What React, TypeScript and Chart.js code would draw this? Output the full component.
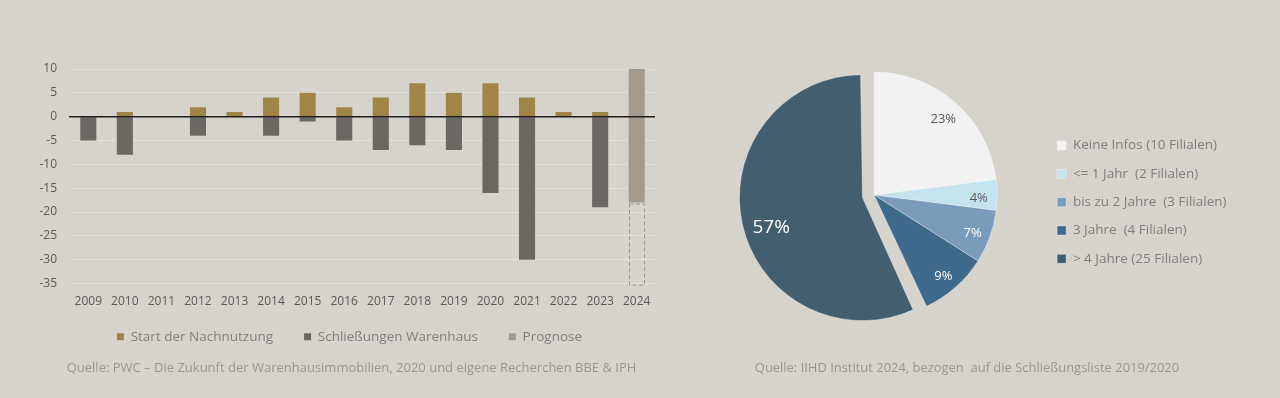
import React, { useEffect, useRef } from "react";
import { Chart, registerables } from "chart.js";

Chart.register(...registerables);

// ---------- Data ----------
const years = ["2009", "2010", "2011", "2012", "2013", "2014", "2015", "2016", "2017", "2018", "2019", "2020", "2021", "2022", "2023", "2024"];
const startNachnutzung = [0, 1, 0, 2, 1, 4, 5, 2, 4, 7, 5, 7, 4, 1, 1, null];
const schliessungen = [-5, -8, 0, -4, 0, -4, -1, -5, -7, -6, -7, -16, -30, 0, -19, null];
const prognose = [null, null, null, null, null, null, null, null, null, null, null, null, null, null, null, [-18, 10]];
const prognoseOffen = [null, null, null, null, null, null, null, null, null, null, null, null, null, null, null, [-35, -18]];
const yMin = -35;
const yMax = 10;
const yStep = 5;

const pieLabels = ["Keine Infos (10 Filialen)", "<= 1 Jahr  (2 Filialen)", "bis zu 2 Jahre  (3 Filialen)", "3 Jahre  (4 Filialen)", "> 4 Jahre (25 Filialen)"];
const pieValues = [23, 4, 7, 9, 57];
const pieValueLabels = ["23%", "4%", "7%", "9%", "57%"];

const sourceLeft = "Quelle: PWC \u2013 Die Zukunft der Warenhausimmobilien, 2020 und eigene Recherchen BBE & IPH";
const sourceRight = "Quelle: IIHD Institut 2024, bezogen  auf die Schlie\u00dfungsliste 2019/2020";

// ---------- Styles ----------
const BG = "#d6d3cc";
const FONT = "'Open Sans', sans-serif";
const GOLD = "#a08546";
const DARK = "#6b6863";
const PROG = "#a39a8f";
const GRID = "#e3e1dc";
const pieColors = ["#f2f2f2", "#c5e3ee", "#7b9bbd", "#3e6a8d", "#435f6f"];
const pieLabelColors = ["#595959", "#595959", "#ffffff", "#ffffff", "#ffffff"];
const PIE_RADIUS = 123;
const PIE_EXPLODE = 12;

Chart.defaults.font.family = FONT;

const zeroLinePlugin = {
  id: "zeroLine",
  afterDatasetsDraw(chart: any) {
    const y = chart.scales.y.getPixelForValue(0);
    const { left, right } = chart.chartArea;
    const ctx = chart.ctx;
    ctx.save();
    ctx.strokeStyle = "#1e1e1e";
    ctx.lineWidth = 1.5;
    ctx.beginPath();
    ctx.moveTo(left - 1, y);
    ctx.lineTo(right, y);
    ctx.stroke();
    ctx.restore();
  },
};

const dashedBoxPlugin = {
  id: "dashedBox",
  afterDatasetsDraw(chart: any) {
    const meta = chart.getDatasetMeta(3);
    const ctx = chart.ctx;
    ctx.save();
    ctx.strokeStyle = "#9a968f";
    ctx.lineWidth = 1;
    ctx.setLineDash([4, 2.5]);
    meta.data.forEach((el: any, i: number) => {
      if (prognoseOffen[i] == null) return;
      const { x, y, base, width } = el.getProps(["x", "y", "base", "width"], true);
      const top = Math.min(y, base);
      const bottom = Math.max(y, base);
      ctx.strokeRect(Math.round(x - width / 2) + 0.5, top + 1.5, Math.round(width) - 1, bottom - top);
    });
    ctx.restore();
  },
};

// Chart.js enlarges exploded slices wider than 180deg by their offset; keep them at the common radius.
const keepExplodedRadiusPlugin = {
  id: "keepExplodedRadius",
  afterDatasetUpdate(chart: any, args: any) {
    const meta = chart.getDatasetMeta(args.index);
    meta.data.forEach((arc: any) => {
      const off = (arc.options?.offset || 0) / 4;
      const circ = arc.circumference || 0;
      const fix = 1 - Math.sin(Math.min(Math.PI, circ));
      arc.outerRadius = arc.outerRadius - off * fix;
    });
  },
};

const pieLabelPlugin = {
  id: "pieLabels",
  afterDatasetsDraw(chart: any) {
    const meta = chart.getDatasetMeta(0);
    const ctx = chart.ctx;
    ctx.save();
    ctx.textAlign = "center";
    ctx.textBaseline = "middle";
    meta.data.forEach((arc: any, i: number) => {
      const { x, y, startAngle, endAngle } = arc.getProps(["x", "y", "startAngle", "endAngle"], true);
      const mid = (startAngle + endAngle) / 2;
      const off = (arc.options.offset || 0) / 4;
      const big = pieValues[i] > 50;
      const r = PIE_RADIUS * (big ? 0.76 : 0.85) + off;
      ctx.fillStyle = pieLabelColors[i];
      ctx.font = `${big ? 19 : 13}px ${FONT}`;
      ctx.fillText(pieValueLabels[i], x + Math.cos(mid) * r, y + Math.sin(mid) * r + (big ? 10 : 3));
    });
    ctx.restore();
  },
};

function BarChart() {
  const ref = useRef<HTMLCanvasElement>(null);
  useEffect(() => {
    const chart = new Chart(ref.current!, {
      type: "bar",
      data: {
        labels: years,
        datasets: [
          { label: "Start der Nachnutzung", data: startNachnutzung as any, backgroundColor: GOLD },
          { label: "Schlie\u00dfungen Warenhaus", data: schliessungen as any, backgroundColor: DARK },
          { label: "Prognose", data: prognose as any, backgroundColor: PROG },
          { label: "Prognose offen", data: prognoseOffen as any, backgroundColor: "rgba(0,0,0,0)" },
        ],
      },
      options: {
        responsive: false,
        animation: false,
        events: [],
        layout: { padding: { left: 0, right: 1, top: 69, bottom: 44.55 } },
        datasets: { bar: { grouped: false, categoryPercentage: 1, barPercentage: 0.44, borderWidth: 0 } as any },
        scales: {
          x: {
            grid: { display: false, drawTicks: false },
            border: { display: false },
            ticks: { color: "#595959", font: { size: 12 }, padding: 11, maxRotation: 0, autoSkip: false },
            afterFit: (s: any) => { s.height = 25.4; },
          },
          y: {
            min: yMin,
            max: yMax,
            grid: { color: GRID, lineWidth: 1, drawTicks: false },
            border: { display: false },
            ticks: { stepSize: yStep, color: "#595959", font: { size: 12 }, padding: 13 },
            afterFit: (s: any) => { s.width = 70; },
          },
          spacer: {
            type: "linear",
            position: "right",
            grid: { display: false, drawTicks: false },
            border: { display: false },
            ticks: { display: false },
            afterFit: (s: any) => { s.width = 44; },
          },
        },
        plugins: {
          tooltip: { enabled: false },
          legend: {
            position: "bottom",
            title: { display: true, text: "", font: { size: 10 }, padding: { top: -21.95, bottom: 0 } },
            labels: {
              boxWidth: 7,
              boxHeight: 7,
              padding: 31,
              color: "#7f7f7f",
              font: { size: 13.5 },
              filter: (item: any) => item.datasetIndex < 3,
            },
          },
        },
      },
      plugins: [zeroLinePlugin, dashedBoxPlugin],
    });
    return () => chart.destroy();
  }, []);
  return <canvas ref={ref} width={700} height={398} style={{ position: "absolute", left: 0, top: 0 }} />;
}

function PieChart() {
  const ref = useRef<HTMLCanvasElement>(null);
  useEffect(() => {
    const chart = new Chart(ref.current!, {
      type: "pie",
      data: {
        labels: pieLabels,
        datasets: [
          {
            data: pieValues,
            backgroundColor: pieColors,
            borderColor: "rgba(255,255,255,0.35)",
            borderWidth: 1,
            offset: [0, 0, 0, 0, PIE_EXPLODE * 4],
            radius: PIE_RADIUS,
          } as any,
        ],
      },
      options: {
        responsive: false,
        animation: false,
        events: [],
        layout: { padding: { left: 26, right: 43.5, top: 45, bottom: 53 } },
        plugins: {
          tooltip: { enabled: false },
          legend: {
            position: "right",
            title: { display: true, text: "", font: { size: 12 }, padding: 0 },
            labels: {
              boxWidth: 9,
              boxHeight: 9,
              padding: 14.8,
              color: "#7f7f7f",
              font: { size: 13.5 },
            },
          },
        },
      },
      plugins: [keepExplodedRadiusPlugin, pieLabelPlugin],
    });
    return () => chart.destroy();
  }, []);
  return <canvas ref={ref} width={600} height={398} style={{ position: "absolute", left: 680, top: 0 }} />;
}

export default function App() {
  const srcStyle: React.CSSProperties = {
    position: "absolute",
    top: 358,
    fontFamily: FONT,
    fontSize: 13,
    lineHeight: "18px",
    color: "#9a9791",
    textAlign: "center",
    whiteSpace: "pre",
  };
  return (
    <div style={{ position: "fixed", left: 0, top: 0, width: 1280, height: 398, background: BG, overflow: "hidden" }}>
      <BarChart />
      <PieChart />
      <div style={{ ...srcStyle, left: 0, width: 703 }}>{sourceLeft}</div>
      <div style={{ ...srcStyle, left: 717, width: 500, fontSize: 12.95 }}>{sourceRight}</div>
    </div>
  );
}
